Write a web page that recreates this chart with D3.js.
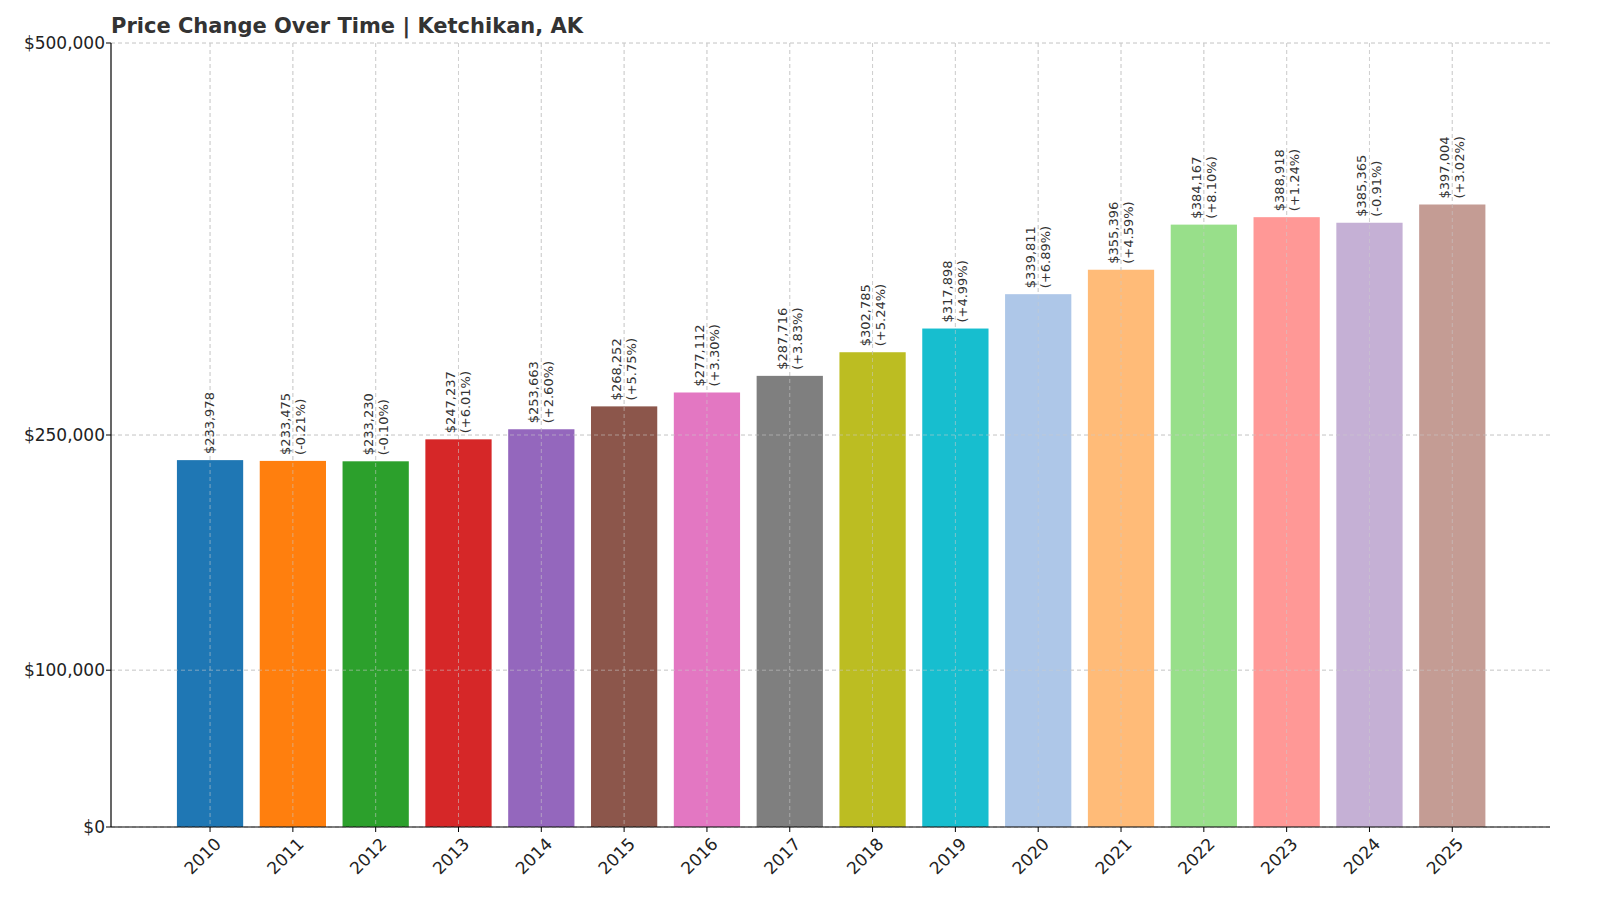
<!DOCTYPE html><html><head><meta charset="utf-8"><script src="https://cdn.jsdelivr.net/npm/d3@7"></script>
<style>body{margin:0;background:#fff}text{font-family:"DejaVu Sans"}</style></head><body><svg id="c" width="1600" height="914"></svg>
<script>
const years=["2010","2011","2012","2013","2014","2015","2016","2017","2018","2019","2020","2021","2022","2023","2024","2025"];
const values=[233978,233475,233230,247237,253663,268252,277112,287716,302785,317898,339811,355396,384167,388918,385365,397004];
const changes=[null,"-0.21%","-0.10%","+6.01%","+2.60%","+5.75%","+3.30%","+3.83%","+5.24%","+4.99%","+6.89%","+4.59%","+8.10%","+1.24%","-0.91%","+3.02%"];
const colors=["#1f77b4","#ff7f0e","#2ca02c","#d62728","#9467bd","#8c564b","#e377c2","#7f7f7f","#bcbd22","#17becf","#aec7e8","#ffbb78","#98df8a","#ff9896","#c5b0d5","#c49c94"];
const yTicks=[0,100000,250000,500000];
const svg=d3.select("#c");
const L=111,R=1550,T=43,B=827;
const x=d3.scaleLinear().domain([-1.196,16.18]).range([L,R]);
const y=d3.scaleLinear().domain([0,500000]).range([B,T]);
const bw=x(0.8)-x(0);
const fmt=d3.format(",");
const g=svg.append("g");
yTicks.forEach(t=>g.append("line").attr("x1",L).attr("x2",R).attr("y1",y(t)).attr("y2",y(t)).attr("stroke","#ccc").attr("stroke-dasharray","4,3").attr("stroke-width",0.8));
years.forEach((d,i)=>g.append("line").attr("x1",x(i)).attr("x2",x(i)).attr("y1",T).attr("y2",B).attr("stroke","#ccc").attr("stroke-dasharray","4,3").attr("stroke-width",0.8));
values.forEach((v,i)=>{
 svg.append("rect").attr("x",x(i)-bw/2).attr("width",bw).attr("y",y(v)).attr("height",B-y(v)).attr("fill",colors[i]);
});
// grid over bars (matplotlib draws grid above)
years.forEach((d,i)=>svg.append("line").attr("x1",x(i)).attr("x2",x(i)).attr("y1",T).attr("y2",B).attr("stroke","#ccc").attr("stroke-dasharray","4,3").attr("stroke-width",0.8).attr("opacity",0.7));
yTicks.forEach(t=>svg.append("line").attr("x1",L).attr("x2",R).attr("y1",y(t)).attr("y2",y(t)).attr("stroke","#ccc").attr("stroke-dasharray","4,3").attr("stroke-width",0.8).attr("opacity",0.7));
values.forEach((v,i)=>{
 const t=svg.append("text").attr("transform",`translate(${x(i)},${y(v)-6}) rotate(-90)`).attr("font-size",13).attr("fill","#333");
 if(changes[i]){
  t.append("tspan").attr("x",0).attr("dy",-3).text("$"+fmt(v));
  t.append("tspan").attr("x",0).attr("dy",15).text("("+changes[i]+")");
 } else t.append("tspan").attr("x",0).attr("dy",4).text("$"+fmt(v));
});
svg.append("line").attr("x1",L).attr("x2",L).attr("y1",T).attr("y2",B).attr("stroke","#000").attr("stroke-width",1.2);
svg.append("line").attr("x1",L).attr("x2",R).attr("y1",B).attr("y2",B).attr("stroke","#000").attr("stroke-width",1.2);
yTicks.forEach(t=>{
 svg.append("line").attr("x1",L-5).attr("x2",L).attr("y1",y(t)).attr("y2",y(t)).attr("stroke","#000");
 svg.append("text").attr("x",L-6).attr("y",y(t)+6).attr("text-anchor","end").attr("font-size",17).attr("fill","#222").text("$"+fmt(t));
});
years.forEach((d,i)=>{
 svg.append("line").attr("x1",x(i)).attr("x2",x(i)).attr("y1",B).attr("y2",B+5).attr("stroke","#000");
 svg.append("text").attr("transform",`translate(${x(i)+12},${B+18}) rotate(-45)`).attr("text-anchor","end").attr("font-size",17).attr("fill","#222").text(d);
});
svg.append("text").attr("x",L).attr("y",33).attr("font-size",21).attr("font-weight","bold").attr("fill","#333").text("Price Change Over Time | Ketchikan, AK");
</script></body></html>
